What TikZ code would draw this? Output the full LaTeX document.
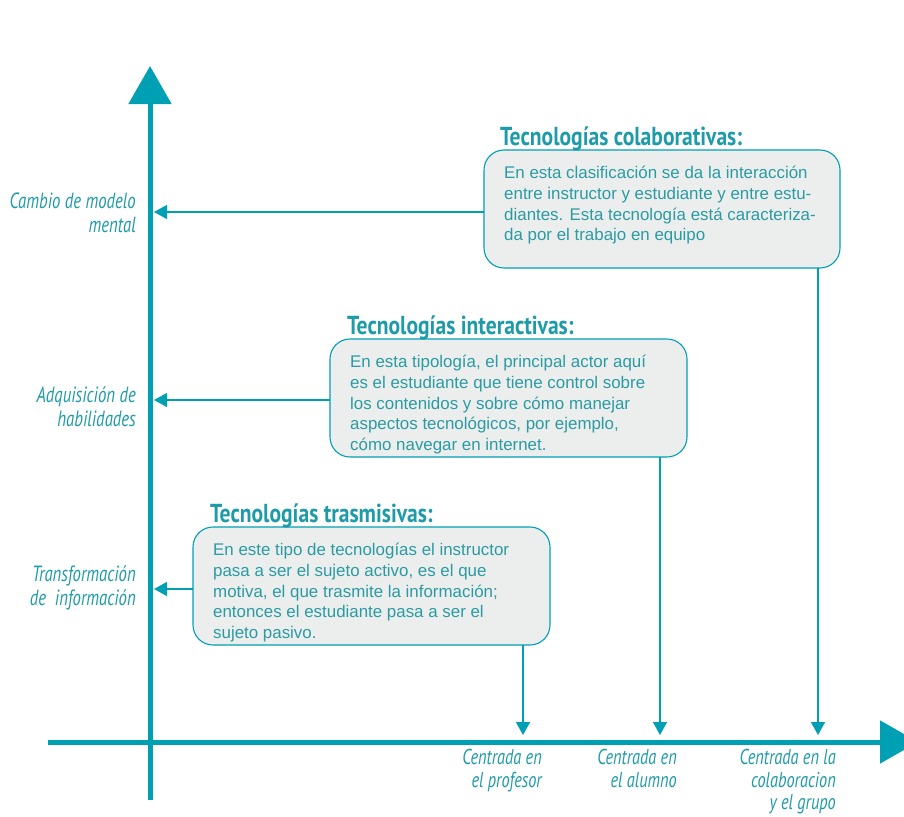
\documentclass[tikz,border=0pt]{standalone}
\usepackage{fontspec}
\setmainfont{Liberation Sans}
\newfontfamily\condfont[FakeStretch=0.83]{PT Sans}
\newfontfamily\condifont[FakeStretch=0.76]{PT Sans Italic}
\usetikzlibrary{arrows.meta}
\definecolor{axisc}{RGB}{0,160,180}
\definecolor{txtc}{RGB}{30,155,168}
\definecolor{bodyc}{RGB}{42,155,162}
\definecolor{boxfill}{RGB}{236,238,238}
\tikzset{
  axis/.style={draw=axisc, line width=5pt, -{Triangle[width=42pt,length=38pt]}},
  conn/.style={draw=axisc, line width=1.5pt, -{Triangle[width=14pt,length=13pt]}},
  infobox/.style={draw=axisc, line width=1.1pt, fill=boxfill, rounded corners=20pt},
  bodytext/.style={anchor=north west, align=left, inner sep=0pt, text=bodyc,
    font=\fontsize{16.9}{20.7}\selectfont},
  heading/.style={anchor=base west, inner sep=0pt, text=txtc,
    font=\condfont\bfseries\fontsize{26}{28}\selectfont},
  sidelabel/.style={anchor=north east, align=right, inner sep=0pt, text=txtc,
    font=\condifont\fontsize{22}{24}\selectfont},
  bottomlabel/.style={sidelabel, font=\condifont\fontsize{21.5}{22.5}\selectfont},
}
\begin{document}
\begin{tikzpicture}[x=1pt,y=-1pt]
\useasboundingbox (0,0) rectangle (904,816);
% axes
\coordinate (vstart) at (150,800);
\coordinate (vend) at (150,66);
\coordinate (hstart) at (48,742);
\coordinate (hend) at (918,742);
\draw[axis] (vstart) -- (vend);
\draw[axis] (hstart) -- (hend);

% boxes
\draw[infobox] (484,150) rectangle (840,268);
\coordinate (colL) at (484,212);
\coordinate (colB) at (818,268);
\draw[infobox] (330,339) rectangle (687,457);
\coordinate (intL) at (330,400);
\coordinate (intB) at (660,457);
\draw[infobox] (193,527) rectangle (550,645);
\coordinate (traL) at (193,589);
\coordinate (traB) at (523,645);

% headings
\node[heading] (hcol) at (500,145) {Tecnologías colaborativas:};
\node[heading] (hint) at (347,334) {Tecnologías interactivas:};
\node[heading] (htra) at (210,522) {Tecnologías trasmisivas:};

% body texts
\node[bodytext] (bcol) at (504,166) {En esta clasificación se da la interacción\\entre instructor y estudiante y entre estu-\\diantes. Esta tecnología está caracteriza-\\da por el trabajo en equipo};
\node[bodytext] (bint) at (350,355) {En esta tipología, el principal actor aquí\\es el estudiante que tiene control sobre\\los contenidos y sobre cómo manejar\\aspectos tecnológicos, por ejemplo,\\cómo navegar en internet.};
\node[bodytext] (btra) at (213,543) {En este tipo de tecnologías el instructor\\pasa a ser el sujeto activo, es el que\\motiva, el que trasmite la información;\\entonces el estudiante pasa a ser el\\sujeto pasivo.};

% axis targets
\coordinate (yCol) at (154,212);
\coordinate (yInt) at (154,400);
\coordinate (yTra) at (154,589);
\coordinate (xTra) at (523,735);
\coordinate (xInt) at (660,735);
\coordinate (xCol) at (818,735);

\draw[conn] (colL) -- (yCol);
\draw[conn] (intL) -- (yInt);
\draw[conn] (traL) -- (yTra);
\draw[conn] (traB) -- (xTra);
\draw[conn] (intB) -- (xInt);
\draw[conn] (colB) -- (xCol);

% side labels
\node[sidelabel] (lcol) at (136,193) {Cambio de modelo\\mental};
\node[sidelabel] (lint) at (136,386) {Adquisición de\\habilidades};
\node[sidelabel] (ltra) at (136,565) {Transformación\\de\ \ información};
% bottom labels
\node[bottomlabel] (btra2) at (542,749) {Centrada en\\el profesor};
\node[bottomlabel] (bint2) at (677,749) {Centrada en\\el alumno};
\node[bottomlabel] (bcol2) at (836,749) {Centrada en la\\colaboracion\\y el grupo};
\end{tikzpicture}
\end{document}
